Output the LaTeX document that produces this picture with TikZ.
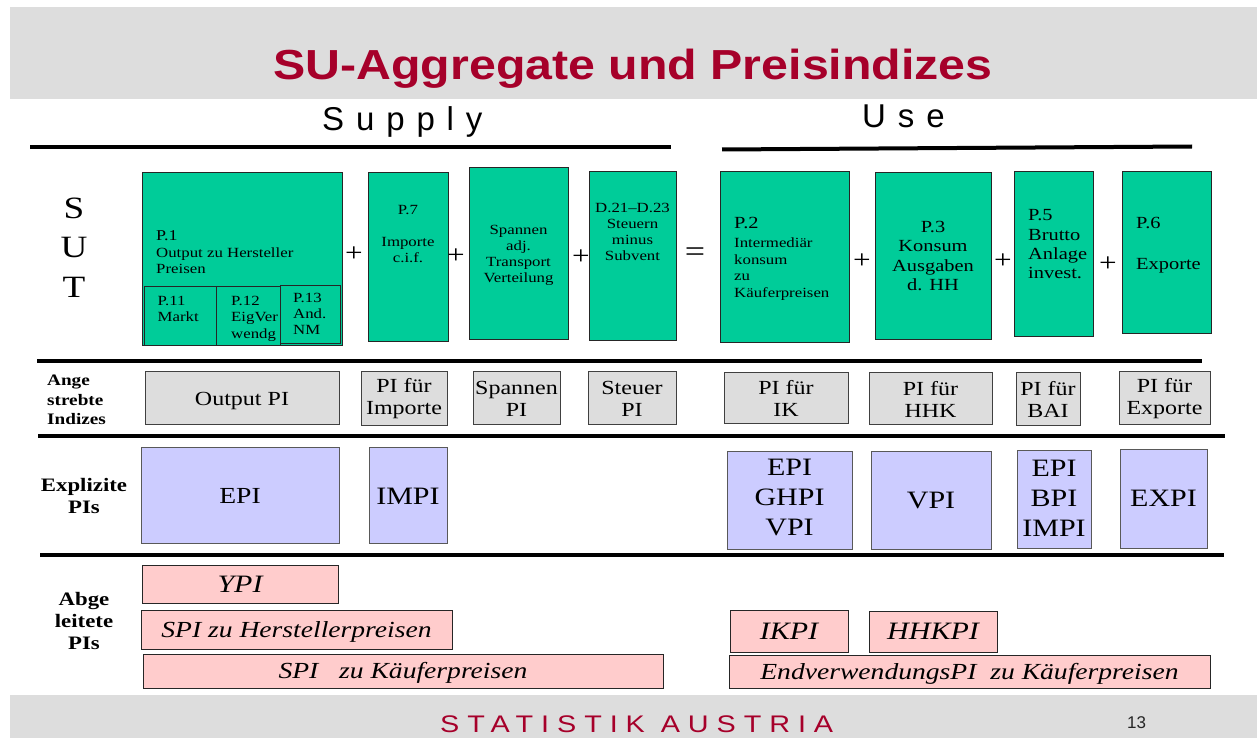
\documentclass[tikz,border=0pt]{standalone}
\usepackage{fontspec}
\setmainfont[FakeStretch=1.2]{Liberation Serif}
\newfontfamily\titlefont[FakeStretch=1.15]{Liberation Sans}
\newfontfamily\spacedfont[LetterSpace=36]{Liberation Sans}
\newfontfamily\footfont[LetterSpace=33,FakeStretch=1.2]{Liberation Sans}
\newfontfamily\plainsans{Liberation Sans}
\usetikzlibrary{fit}

\definecolor{sutgreen}{HTML}{00CC99}
\definecolor{idxgray}{HTML}{DDDDDD}
\definecolor{explblue}{HTML}{CCCCFF}
\definecolor{derpink}{HTML}{FFCCCC}
\definecolor{bandgray}{HTML}{DDDDDD}
\definecolor{statred}{HTML}{A6002A}

\newcommand\fsz[2]{\fontsize{#1}{#2}\selectfont}

\tikzset{
  sutbox/.style={draw=black!85, fill=sutgreen, line width=1pt, inner sep=0pt},
  idxbox/.style={draw=black!75, fill=idxgray, line width=1pt, inner sep=0pt},
  explbox/.style={draw=black!65, fill=explblue, line width=1pt, inner sep=0pt},
  derbox/.style={draw=black!85, fill=derpink, line width=1pt, inner sep=0pt},
  idxtext/.style={inner sep=0pt, align=center, font=\fsz{20}{22}},
  expltext/.style={inner sep=0pt, align=center, font=\fsz{25}{30}},
  dertext/.style={inner sep=0pt, font=\itshape\fsz{23}{26}},
  dershort/.style={inner sep=0pt, font=\itshape\fsz{25}{28}},
  boxtext/.style={inner sep=0pt, font=\fsz{14}{16.5}},
  bigtext/.style={inner sep=0pt, font=\fsz{17}{19.6}},
  optext/.style={inner sep=0pt, font=\fsz{26}{28}},
  rowlabel/.style={inner sep=0pt, font=\bfseries\fsz{19}{22}, align=center},
  rule/.style={line width=4pt, black},
}

\begin{document}
\begin{tikzpicture}[x=1pt, y=-1pt]
\useasboundingbox (0,0) rectangle (1257,738);
\fill[white] (0,0) rectangle (1257,738);

% title band and footer band
\fill[bandgray] (10,7) rectangle (1257,99);
\fill[bandgray] (10,695) rectangle (1257,738);
\node[anchor=base, inner sep=0pt, text=statred,
      font=\titlefont\bfseries\fsz{42}{48}] (title) at (633,80)
      {SU-Aggregate und Preisindizes};
\node[anchor=base west, inner sep=0pt, text=statred,
      font=\footfont\fsz{24}{28}] (footer) at (440,732) {STATISTIK AUSTRIA};
\node[anchor=base west, inner sep=0pt, text=black!85,
      font=\plainsans\fsz{17}{20}] (pagenum) at (1127,728) {13};

% Supply / Use headings with their rules
\node[anchor=base west, inner sep=0pt, font=\spacedfont\fsz{33}{36}] (supply) at (322,131) {Supply};
\node[anchor=base west, inner sep=0pt, font=\spacedfont\fsz{33}{36}] (use) at (862,128) {Use};
\draw[rule] (30,147) -- (671,147);
\draw[rule] (722,149.5) -- (1192,146.5);

% SUT label
\node[anchor=base, inner sep=0pt, font=\fsz{31}{36}] (sutS) at (74,218) {S};
\node[anchor=base, inner sep=0pt, font=\fsz{31}{36}] (sutU) at (74,257) {U};
\node[anchor=base, inner sep=0pt, font=\fsz{31}{36}] (sutT) at (74,297) {T};

% ---- supply side aggregates ----
\node[sutbox, fit={(142,173) (342,345)}] (p1) {};
\node[boxtext, anchor=north west, align=left] (p1txt) at (156,230.5)
  {{\fsz{15}{17}P.1}\\Output zu Hersteller\\Preisen};
\node[sutbox, fit={(144,286) (216,345)}] (p11) {};
\node[sutbox, fit={(216,286) (280,345)}] (p12) {};
\node[boxtext, anchor=north west, align=left, font=\fsz{14}{16}] (p11txt) at (157.5,295.6) {P.11\\Markt};
\node[boxtext, anchor=north west, align=left] (p12txt) at (231,295.6) {P.12\\EigVer\\wendg};
\node[sutbox, fit={(280,285) (340,343)}] (p13) {};
\node[boxtext, anchor=north west, align=left, font=\fsz{14}{16}] (p13txt) at (293,292.6) {P.13\\And.\\NM};

\node[sutbox, fit={(368,173) (448,341)}] (p7) {};
\node[boxtext, anchor=base] (p7a) at (408,214) {P.7};
\node[boxtext, anchor=north, align=center, font=\fsz{14}{16}] (p7b) at (408,237.6) {Importe\\c.i.f.};

\node[sutbox, fit={(469,168) (568,339)}] (spann) {};
\node[boxtext, anchor=north, align=center, font=\fsz{14}{16.3}] (spanntxt) at (518.5,224.6)
  {Spannen\\adj.\\Transport\\Verteilung};

\node[sutbox, fit={(589,172) (676,340)}] (d21) {};
\node[boxtext, anchor=north, align=center, font=\fsz{14}{16}] (d21txt) at (632.5,202.6)
  {D.21--D.23\\Steuern\\minus\\Subvent};

% ---- use side aggregates ----
\node[sutbox, fit={(720,172) (849,342)}] (p2) {};
\node[bigtext, anchor=base west] (p2a) at (734,228) {P.2};
\node[boxtext, anchor=north west, align=left, font=\fsz{14}{16.7}] (p2b) at (734,237.6)
  {Intermediär\\konsum\\zu\\Käuferpreisen};

\node[sutbox, fit={(875,173) (991,339)}] (p3) {};
\node[bigtext, anchor=north, align=center] (p3txt) at (933,220.6)
  {P.3\\Konsum\\Ausgaben\\d. HH};

\node[sutbox, fit={(1014,172) (1093,336)}] (p5) {};
\node[bigtext, anchor=north west, align=left, font=\fsz{17}{19.3}] (p5txt) at (1028,209.6)
  {P.5\\Brutto\\Anlage\\invest.};

\node[sutbox, fit={(1122,172) (1211,333)}] (p6) {};
\node[bigtext, anchor=base west] (p6a) at (1136,228) {P.6};
\node[bigtext, anchor=base west] (p6b) at (1136,269) {Exporte};

% operators between the aggregates
\node[optext] (op1) at (354,254) {+};
\node[optext] (op2) at (456,256) {+};
\node[optext] (op3) at (581,257) {+};
\node[optext, font=\fsz{30}{32}] (op4) at (695,255) {=};
\node[optext] (op5) at (862,261) {+};
\node[optext] (op6) at (1003,261) {+};
\node[optext] (op7) at (1108,264) {+};

% section rules
\draw[rule] (37,361) -- (1202,361);
\draw[rule] (38,436) -- (1225,436);
\draw[rule] (40,555) -- (1224,555);

% ---- targeted indices ----
\node[inner sep=0pt, anchor=north west, align=left, font=\bfseries\fsz{16}{19.5}] (lblange) at (47,375)
  {Ange\\strebte\\Indizes};
\node[idxbox, fit={(145,371) (339,424)}] (ipout) {};
\node[idxbox, fit={(361,371) (447,425)}] (ipimp) {};
\node[idxbox, fit={(473,371) (560,424)}] (ipspan) {};
\node[idxbox, fit={(588,371) (676,424)}] (ipsteu) {};
\node[idxbox, fit={(724,372) (848,423)}] (ipik) {};
\node[idxbox, fit={(869,372) (992,424)}] (iphhk) {};
\node[idxbox, fit={(1016,372) (1080,425)}] (ipbai) {};
\node[idxbox, fit={(1119,371) (1210,424)}] (ipexp) {};
\node[idxtext] (ipouttxt) at ([yshift=-4pt]ipout.center) {Output PI};
\node[idxtext] (ipimptxt) at ([yshift=-1pt]ipimp.center) {PI für\\Importe};
\node[idxtext] (ipspantxt) at ([yshift=-1pt]ipspan.center) {Spannen\\PI};
\node[idxtext] (ipsteutxt) at ([yshift=-1pt]ipsteu.center) {Steuer\\PI};
\node[idxtext] (ipiktxt) at ([yshift=-1pt]ipik.center) {PI für\\IK};
\node[idxtext] (iphhktxt) at ([yshift=-1pt]iphhk.center) {PI für\\HHK};
\node[idxtext] (ipbaitxt) at ([yshift=-1pt]ipbai.center) {PI für\\BAI};
\node[idxtext] (ipexptxt) at ([yshift=-1pt]ipexp.center) {PI für\\Exporte};

% ---- explicit price indices ----
\node[rowlabel, anchor=north] (lblexpl) at (84,478) {Explizite\\PIs};
\node[explbox, fit={(141,447) (339,543)}] (xepi) {};
\node[explbox, fit={(369,447) (447,543)}] (ximpi) {};
\node[explbox, fit={(727,451) (852,549)}] (xik) {};
\node[explbox, fit={(871,451) (991,549)}] (xvpi) {};
\node[explbox, fit={(1017,450) (1091,548)}] (xbai) {};
\node[explbox, fit={(1120,449) (1207,548)}] (xexpi) {};
\node[expltext, font=\fsz{23}{28}] (xepitxt) at ([yshift=-1pt]xepi.center) {EPI};
\node[expltext] (ximpitxt) at ([yshift=-1pt]ximpi.center) {IMPI};
\node[expltext] (xiktxt) at ([yshift=3pt]xik.center) {EPI\\GHPI\\VPI};
\node[expltext] (xvpitxt) at (xvpi.center) {VPI};
\node[expltext] (xbaitxt) at ([yshift=1pt]xbai.center) {EPI\\BPI\\IMPI};
\node[expltext] (xexpitxt) at (xexpi.center) {EXPI};

% ---- derived price indices ----
\node[rowlabel, anchor=north] (lblabge) at (84,592) {Abge\\leitete\\PIs};
\node[derbox, fit={(142,565) (338,603)}] (dypi) {};
\node[derbox, fit={(141,610) (452,649)}] (dspih) {};
\node[derbox, fit={(143,654) (663,688)}] (dspik) {};
\node[derbox, fit={(730,610) (848,652)}] (dikpi) {};
\node[derbox, fit={(869,611) (997,652)}] (dhhkpi) {};
\node[derbox, fit={(729,655) (1210,688)}] (dend) {};
\node[dershort] (dypitxt) at (dypi.center) {YPI};
\node[dertext] (dspihtxt) at ([yshift=-2pt]dspih.center) {SPI zu Herstellerpreisen};
\node[dertext] (dspiktxt) at ([yshift=-2pt]dspik.center) {SPI~~ zu Käuferpreisen};
\node[dershort] (dikpitxt) at (dikpi.center) {IKPI};
\node[dershort] (dhhkpitxt) at (dhhkpi.center) {HHKPI};
\node[dertext] (dendtxt) at ([yshift=-2pt]dend.center) {EndverwendungsPI~ zu Käuferpreisen};
\end{tikzpicture}
\end{document}
